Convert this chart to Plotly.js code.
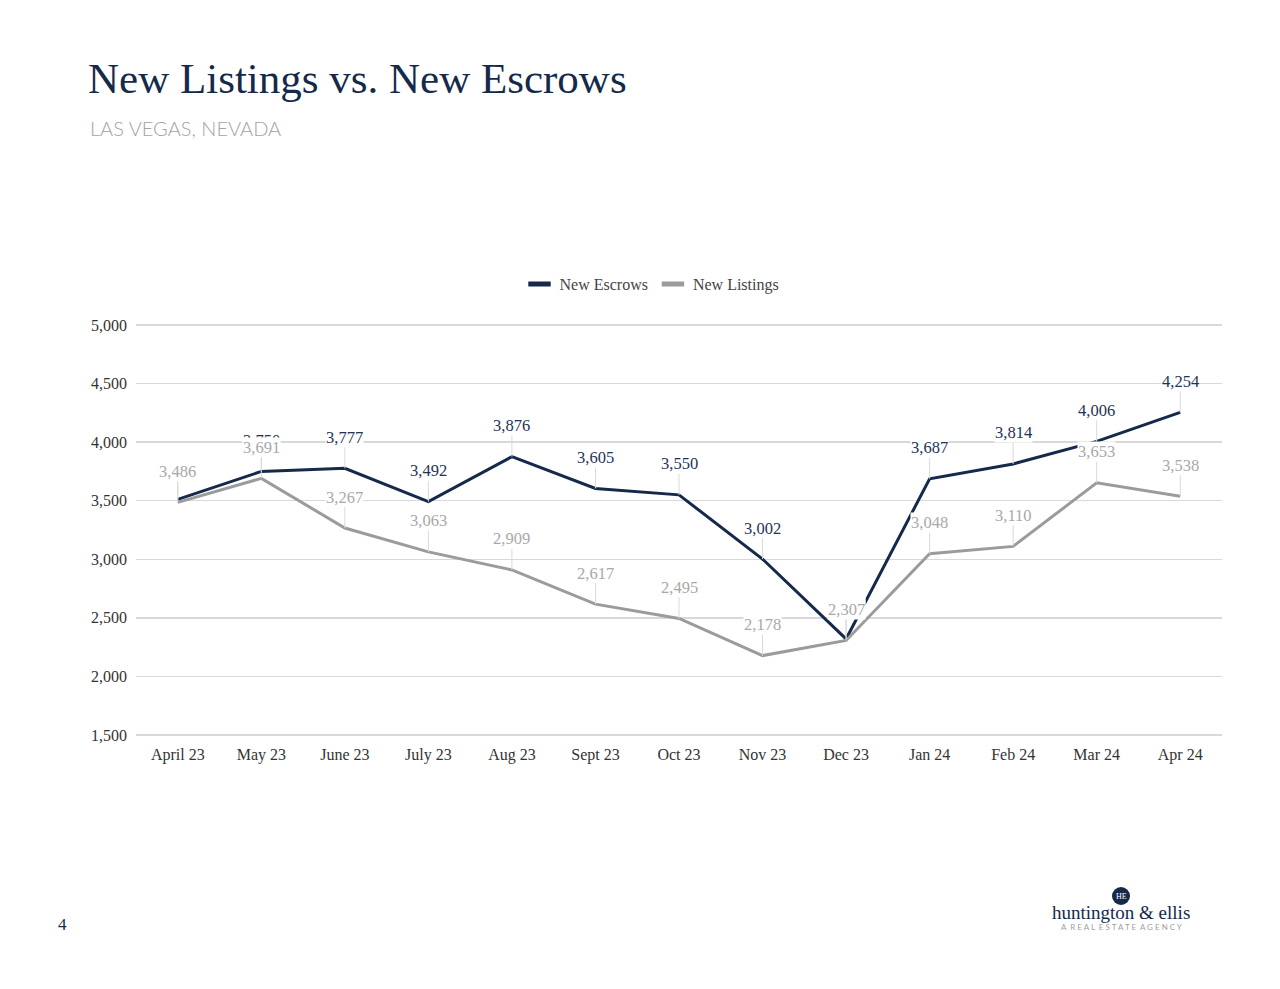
<!DOCTYPE html>
<html>
<head>
<meta charset="utf-8">
<script src="https://cdn.plot.ly/plotly-3.0.1.min.js"></script>
<style>
  html, body { margin: 0; padding: 0; background: #ffffff; }
  #chart { width: 1280px; height: 989px; }
</style>
</head>
<body>
<div id="chart"></div>
<script>
const months = ["April 23", "May 23", "June 23", "July 23", "Aug 23", "Sept 23", "Oct 23", "Nov 23", "Dec 23", "Jan 24", "Feb 24", "Mar 24", "Apr 24"];
const newEscrows = [3511, 3750, 3777, 3492, 3876, 3605, 3550, 3002, 2320, 3687, 3814, 4006, 4254];
const newListings = [3486, 3691, 3267, 3063, 2909, 2617, 2495, 2178, 2307, 3048, 3110, 3653, 3538];
const yTicks = [1500, 2000, 2500, 3000, 3500, 4000, 4500, 5000];

const NAVY = "#15294b";
const GRAY = "#9b9b9b";
const SERIF = "Liberation Serif, DejaVu Serif, serif";

const fmt = v => v.toLocaleString("en-US");

// plot box in pixels (for placing page decorations in paper coordinates)
const L = 136, R = 58, T = 323, B = 252;
const PW = 1280 - L - R, PH = 989 - T - B;
const px = x => (x - L) / PW;
const py = y => 1 + (T - y) / PH;

const traces = [
  { x: months, y: newEscrows, name: "New Escrows", type: "scatter", mode: "lines",
    line: { color: NAVY, width: 3 }, hoverinfo: "skip", showlegend: false },
  { x: months, y: newListings, name: "New Listings", type: "scatter", mode: "lines",
    line: { color: GRAY, width: 3 }, hoverinfo: "skip", showlegend: false },
  // legend entries drawn as short thick bars, as in the reference
  { x: [null], y: [null], name: "New Escrows", type: "scatter", mode: "markers",
    marker: { symbol: "line-ew", size: 16, color: NAVY, line: { color: NAVY, width: 5 } } },
  { x: [null], y: [null], name: "New Listings", type: "scatter", mode: "markers",
    marker: { symbol: "line-ew", size: 16, color: GRAY, line: { color: GRAY, width: 5 } } }
];

function labels(vals, color) {
  return vals.map((v, i) => ({
    x: months[i], y: v, xref: "x", yref: "y",
    text: fmt(v), showarrow: true, arrowhead: 0, arrowwidth: 1, arrowcolor: "#d9d9d9",
    ax: 0, ay: -31, standoff: 0,
    bgcolor: "#ffffff", borderpad: 0,
    font: { family: SERIF, size: 16.5, color: color }
  }));
}

const annotations = [
  ...labels(newEscrows, "#1f3356"),
  ...labels(newListings, "#a8a8a8"),
  { xref: "paper", yref: "paper", x: px(62), y: py(924),
    text: "4", showarrow: false, xanchor: "center", yanchor: "middle",
    font: { family: SERIF, size: 17, color: NAVY } },
  { xref: "paper", yref: "paper", x: px(1121), y: py(896),
    text: "HE", showarrow: false, xanchor: "center", yanchor: "middle",
    font: { family: SERIF, size: 8, color: "#ffffff" } },
  { xref: "paper", yref: "paper", x: px(1121), y: py(912),
    text: "huntington &amp; ellis", showarrow: false, xanchor: "center", yanchor: "middle",
    font: { family: SERIF, size: 19, color: NAVY } },
  { xref: "paper", yref: "paper", x: px(1121), y: py(927),
    text: "A  R E A L  E S T A T E  A G E N C Y", showarrow: false, xanchor: "center", yanchor: "middle",
    font: { family: "Lato, Open Sans, sans-serif", size: 8, color: "#a0a0a0" } },
  { xref: "paper", yref: "paper", x: px(88), y: py(128),
    text: "LAS VEGAS, NEVADA", showarrow: false, xanchor: "left", yanchor: "middle",
    font: { family: "Lato, Open Sans, sans-serif", size: 20, color: "#a3a3a3", weight: 300 } }
];

const layout = {
  width: 1280, height: 989,
  paper_bgcolor: "#ffffff", plot_bgcolor: "#ffffff",
  margin: { l: L, r: R, t: T, b: B, pad: 0 },
  title: {
    text: "New Listings vs. New Escrows",
    xref: "container", yref: "container", x: 88 / 1280, xanchor: "left",
    y: 1 - 78 / 989, yanchor: "middle",
    font: { family: SERIF, size: 43, color: NAVY }
  },
  showlegend: true,
  legend: {
    orientation: "h", xref: "paper", yref: "paper",
    x: px(652), xanchor: "center", y: py(284), yanchor: "middle",
    font: { family: SERIF, size: 16, color: "#444444" },
    itemwidth: 30, traceorder: "normal", bgcolor: "rgba(0,0,0,0)"
  },
  xaxis: {
    type: "category", categoryorder: "array", categoryarray: months,
    range: [-0.5, months.length - 0.5],
    showgrid: false, zeroline: false, showline: false, ticks: "",
    tickfont: { family: SERIF, size: 16, color: "#333333" }, ticklabelstandoff: 6
  },
  yaxis: {
    range: [1483, 5017], tickvals: yTicks, ticktext: yTicks.map(fmt),
    showgrid: true, gridcolor: "#d9d9d9", gridwidth: 1.5, zeroline: false,
    showline: false, ticks: "",
    tickfont: { family: SERIF, size: 16, color: "#333333" }, ticklabelstandoff: 8
  },
  shapes: [
    { type: "circle", xref: "paper", yref: "paper",
      x0: px(1112), x1: px(1130), y0: py(905), y1: py(887),
      fillcolor: NAVY, line: { width: 0 } }
  ],
  annotations: annotations
};

Plotly.newPlot("chart", traces, layout, { displayModeBar: false, staticPlot: true });
</script>
</body>
</html>
